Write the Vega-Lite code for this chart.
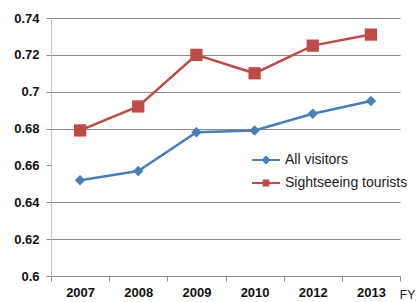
{
  "$schema": "https://vega.github.io/schema/vega-lite/v6.json",
  "width": 349,
  "height": 258,
  "autosize": {"type": "none"},
  "padding": {"left": 51, "top": 18, "right": 16, "bottom": 26},
  "background": "white",
  "config": {
    "view": {"stroke": null},
    "font": "Liberation Sans"
  },
  "data": {
    "values": [
      {"year": "2007", "series": "All visitors", "value": 0.652},
      {"year": "2008", "series": "All visitors", "value": 0.657},
      {"year": "2009", "series": "All visitors", "value": 0.678},
      {"year": "2010", "series": "All visitors", "value": 0.679},
      {"year": "2012", "series": "All visitors", "value": 0.688},
      {"year": "2013", "series": "All visitors", "value": 0.695},
      {"year": "2007", "series": "Sightseeing tourists", "value": 0.679},
      {"year": "2008", "series": "Sightseeing tourists", "value": 0.692},
      {"year": "2009", "series": "Sightseeing tourists", "value": 0.720},
      {"year": "2010", "series": "Sightseeing tourists", "value": 0.710},
      {"year": "2012", "series": "Sightseeing tourists", "value": 0.725},
      {"year": "2013", "series": "Sightseeing tourists", "value": 0.731}
    ]
  },
  "encoding": {
    "x": {
      "field": "year",
      "type": "ordinal",
      "sort": null,
      "scale": {"type": "band", "paddingInner": 0, "paddingOuter": 0},
      "axis": {
        "title": "FY",
        "titleAngle": 0,
        "titleX": 356,
        "titleY": 18,
        "titleAlign": "center",
        "titleBaseline": "middle",
        "titleFontWeight": "normal",
        "titleFontSize": 12,
        "titleColor": "#222",
        "labelAngle": 0,
        "labelFontSize": 13,
        "labelFontWeight": "bold",
        "labelColor": "#111",
        "labelPadding": 5,
        "tickBand": "extent",
        "tickSize": 5,
        "tickColor": "#8c8c8c",
        "domainColor": "#8c8c8c",
        "grid": false
      }
    },
    "y": {
      "field": "value",
      "type": "quantitative",
      "scale": {"domain": [0.6, 0.74], "nice": false, "zero": false},
      "axis": {
        "title": null,
        "values": [0.6, 0.62, 0.64, 0.66, 0.68, 0.7, 0.72, 0.74],
        "format": "~g",
        "labelFontSize": 13,
        "labelFontWeight": "bold",
        "labelColor": "#111",
        "labelPadding": 7,
        "tickSize": 5,
        "tickColor": "#8c8c8c",
        "domainColor": "#c0c0c0",
        "grid": true,
        "gridColor": {"condition": {"test": "abs(datum.value - 0.66) < 0.001", "value": "rgba(0,0,0,0)"}, "value": "#8a8a8a"}
      }
    },
    "color": {
      "field": "series",
      "type": "nominal",
      "scale": {"domain": ["All visitors", "Sightseeing tourists"], "range": ["#4A7EBB", "#BE4B48"]},
      "legend": {
        "title": null,
        "orient": "none",
        "legendX": 200,
        "legendY": 127,
        "padding": 0,
        "symbolSize": 784,
        "symbolStrokeWidth": 2,
        "labelFontSize": 14,
        "labelColor": "#222",
        "labelOffset": 4,
        "rowPadding": -2,
        "fillColor": "white",
        "encode": {
          "symbols": {
            "update": {
              "shape": {"signal": "datum.value == 'All visitors' ? 'M-1,0H1M0,-0.22L0.22,0L0,0.22L-0.22,0Z' : 'M-1,0H1M-0.17,-0.17H0.17V0.17H-0.17Z'"},
              "fill": {"scale": "color", "field": "value"},
              "stroke": {"scale": "color", "field": "value"},
              "strokeWidth": {"value": 2},
              "opacity": {"value": 1}
            }
          }
        }
      }
    }
  },
  "layer": [
    {
      "mark": {"type": "line", "strokeWidth": 2.5}
    },
    {
      "transform": [{"filter": "datum.series == 'All visitors'"}],
      "mark": {"type": "point", "shape": "diamond", "size": 110, "filled": true, "opacity": 1}
    },
    {
      "transform": [{"filter": "datum.series == 'Sightseeing tourists'"}],
      "mark": {"type": "point", "shape": "square", "size": 150, "filled": true, "opacity": 1}
    }
  ]
}
